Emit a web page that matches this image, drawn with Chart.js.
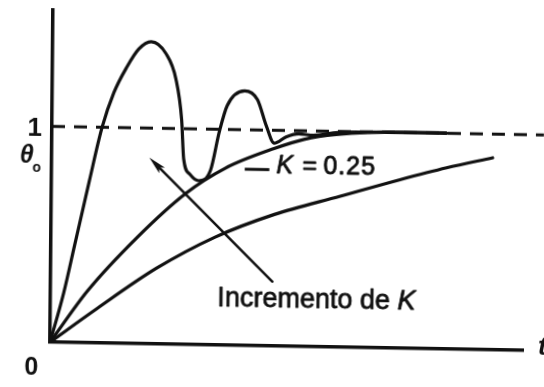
<!DOCTYPE html>
<html>
<head>
<meta charset="utf-8">
<script src="https://cdn.jsdelivr.net/npm/chart.js@4.4.1/dist/chart.umd.min.js"></script>
<style>
  html, body { margin: 0; padding: 0; background: #fff; overflow: hidden; }
  #wrap {
    position: absolute; left: 0; top: 0; width: 544px; height: 387px;
    transform: matrix(1, 0.0175, -0.009, 1, 0, 0);
    transform-origin: 42px 350px;
  }
</style>
</head>
<body>
<div id="wrap"><canvas id="c" width="544" height="387"></canvas></div>
<script>
// Step responses θ(t)/θo for increasing gain K
// highest gain: underdamped, oscillating response
const tHigh = [0, 0.28, 0.50, 0.80, 1.06, 1.30, 1.57, 1.82, 2.08, 2.40, 2.61, 2.74, 2.79, 2.92, 3.11, 3.36, 3.54, 3.70, 4.07, 4.34, 4.53, 4.70, 4.95, 5.22, 5.53, 6.05, 7.40, 8.34];
const vHigh = [0, 0.23, 0.45, 0.75, 1.00, 1.16, 1.28, 1.365, 1.40, 1.345, 1.23, 1.04, 0.86, 0.79, 0.76, 0.81, 0.99, 1.11, 1.18, 1.14, 1.02, 0.94, 0.97, 0.985, 0.98, 0.995, 1.0, 1.0];
// K = 0.25
const tMid = [0, 0.78, 1.81, 2.84, 3.67, 4.70, 5.33, 6.01, 7.40, 8.34];
const vMid = [0, 0.24, 0.49, 0.70, 0.82, 0.915, 0.96, 0.985, 1.0, 1.0];
// lowest gain: slow, overdamped
const tLow = [0, 0.99, 2.23, 3.47, 4.72, 6.11, 7.35, 8.35, 9.32];
const vLow = [0, 0.16, 0.35, 0.50, 0.61, 0.70, 0.78, 0.84, 0.89];
// final value reference
const refLevel = 1;
const refSpan = [0, 10.4];
// axis texts
const axisLabels = { origin: '0', level: '1', symbol: 'θ', symbolSub: 'o', time: 't' };
const trendText = 'Incremento de ';
const trendVar = 'K';
const gainText = ['K', '=', '0.25'];

const ink = '#111';
const pts = (ts, vs) => ts.map((t, i) => ({ x: t, y: vs[i] }));

const curve = (ts, vs) => ({
  data: pts(ts, vs),
  borderColor: ink,
  borderWidth: 3.2,
  pointRadius: 0,
  cubicInterpolationMode: 'monotone',
  borderCapStyle: 'round',
  borderJoinStyle: 'round',
  fill: false
});

// filled text with a thin outline so the print looks heavier
function ink_text(ctx, s, x, y, w) {
  ctx.fillText(s, x, y);
  ctx.lineWidth = w;
  ctx.strokeText(s, x, y);
}

const notes = {
  id: 'notes',
  afterDatasetsDraw(chart) {
    const { ctx, scales: { x, y } } = chart;
    const px = t => x.getPixelForValue(t);
    const py = v => y.getPixelForValue(v);
    ctx.save();
    ctx.fillStyle = ink;
    ctx.strokeStyle = ink;
    ctx.lineCap = 'round';
    ctx.lineJoin = 'round';

    // arrow pointing towards increasing gain
    const x0 = px(4.687), y0 = py(0.298), x1 = px(2.064), y1 = py(0.863);
    const a = Math.atan2(y1 - y0, x1 - x0), ca = Math.cos(a), sa = Math.sin(a);
    ctx.lineWidth = 2.6;
    ctx.beginPath();
    ctx.moveTo(x0, y0);
    ctx.lineTo(x1 - 8 * ca, y1 - 8 * sa);
    ctx.stroke();
    const L = 18, W = 4;
    ctx.beginPath();
    ctx.moveTo(x1, y1);
    ctx.lineTo(x1 - L * ca + W * sa, y1 - L * sa - W * ca);
    ctx.lineTo(x1 - (L - 4) * ca, y1 - (L - 4) * sa);
    ctx.lineTo(x1 - L * ca - W * sa, y1 - L * sa + W * ca);
    ctx.closePath();
    ctx.fill();

    // trend label
    ctx.textAlign = 'left';
    ctx.textBaseline = 'alphabetic';
    const fx = px(3.528), fy = py(0.181);
    ctx.font = '27px "Liberation Sans", Arial, sans-serif';
    ink_text(ctx, trendText, fx, fy, 0.8);
    const w1 = ctx.measureText(trendText).width;
    ctx.font = 'italic 27px "Liberation Sans", Arial, sans-serif';
    ink_text(ctx, trendVar, fx + w1, fy, 0.8);

    // gain label with leader
    ctx.lineWidth = 3;
    ctx.lineCap = 'butt';
    ctx.beginPath();
    ctx.moveTo(px(4.083), py(0.817));
    ctx.lineTo(px(4.603), py(0.817));
    ctx.stroke();
    const gx = px(4.749), gy = py(0.801);
    ctx.font = 'italic 25px "Liberation Sans", Arial, sans-serif';
    ink_text(ctx, gainText[0], gx, gy, 0.8);
    ctx.font = '25px "Liberation Sans", Arial, sans-serif';
    ink_text(ctx, gainText[1], gx + 26, gy, 0.8);
    ctx.letterSpacing = '1px';
    ink_text(ctx, gainText[2], gx + 47, gy, 0.9);
    ctx.letterSpacing = '0px';

    // axis labels
    const left = x.left, bottom = y.bottom, one = py(refLevel);
    ctx.font = 'bold 26px "Liberation Sans", Arial, sans-serif';
    ctx.textAlign = 'right';
    ctx.textBaseline = 'middle';
    ctx.fillText(axisLabels.level, left - 10, one + 3);
    ctx.textAlign = 'center';
    ctx.font = 'italic bold 25px "Liberation Sans", Arial, sans-serif';
    ctx.fillText(axisLabels.symbol, left - 25, one + 30);
    ctx.font = 'bold 14px "Liberation Sans", Arial, sans-serif';
    ctx.fillText(axisLabels.symbolSub, left - 15, one + 42);
    ctx.font = 'bold 25px "Liberation Sans", Arial, sans-serif';
    ctx.fillText(axisLabels.origin, left - 18.5, bottom + 26);
    ctx.textAlign = 'left';
    ctx.font = 'italic bold 26px "Liberation Sans", Arial, sans-serif';
    ctx.fillText(axisLabels.time, x.right + 15, bottom - 3);
    ctx.restore();
  }
};

new Chart(document.getElementById('c'), {
  type: 'line',
  data: {
    datasets: [
      {
        data: [{ x: refSpan[0], y: refLevel }, { x: refSpan[1], y: refLevel }],
        borderColor: ink,
        borderWidth: 3,
        borderDash: [13, 9],
        pointRadius: 0,
        clip: false,
        fill: false
      },
      curve(tHigh, vHigh),
      curve(tMid, vMid),
      curve(tLow, vLow)
    ]
  },
  options: {
    responsive: false,
    devicePixelRatio: 1,
    animation: false,
    events: [],
    layout: { padding: { left: 42, right: 21, top: 10, bottom: 37 } },
    plugins: { legend: { display: false }, tooltip: { enabled: false } },
    scales: {
      x: {
        type: 'linear', min: 0, max: 10,
        grid: { display: false },
        ticks: { display: false },
        border: { display: true, color: ink, width: 3.5 }
      },
      y: {
        type: 'linear', min: 0, max: 1.5385,
        grid: { display: false },
        ticks: { display: false },
        border: { display: true, color: ink, width: 3.5 }
      }
    }
  },
  plugins: [notes]
});
</script>
</body>
</html>
